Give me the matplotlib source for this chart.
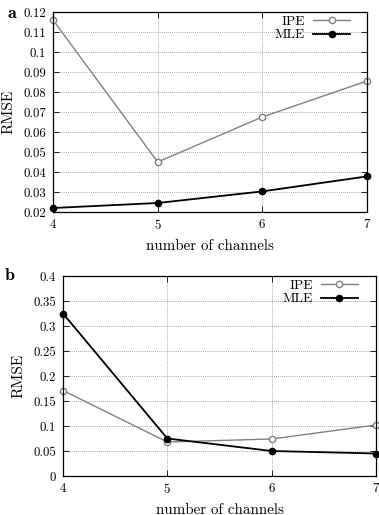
import matplotlib
matplotlib.use("Agg")
import matplotlib.pyplot as plt

plt.rcParams['font.family'] = ['cmr10']
plt.rcParams['axes.formatter.use_mathtext'] = True
plt.rcParams['mathtext.fontset'] = 'cm'

channels = [4, 5, 6, 7]

# panel a
ipe_a = [0.116, 0.045, 0.0675, 0.0855]
mle_a = [0.022, 0.0245, 0.0303, 0.0378]
yticks_a = [0.02, 0.03, 0.04, 0.05, 0.06, 0.07, 0.08, 0.09, 0.1, 0.11, 0.12]

# panel b
ipe_b = [0.171, 0.068, 0.074, 0.102]
mle_b = [0.325, 0.075, 0.050, 0.045]
yticks_b = [0, 0.05, 0.1, 0.15, 0.2, 0.25, 0.3, 0.35, 0.4]

W, H = 379, 515
fig = plt.figure(figsize=(W / 100, H / 100), dpi=100)


def make_axes(rect, ipe, mle, yticks, leg_x):
    l, t, r, b = rect
    ax = fig.add_axes([l / W, 1 - b / H, (r - l) / W, (b - t) / H])
    ax.plot(channels, ipe, color='#808080', lw=1.0, marker='o', ms=4.5,
            mfc='white', mec='#808080', mew=1.0, label='IPE', clip_on=False)
    ax.plot(channels, mle, color='black', lw=1.3, marker='o', ms=4.5,
            mfc='black', mec='black', label='MLE', clip_on=False)
    ax.set_xlim(4, 7)
    ax.set_ylim(yticks[0], yticks[-1])
    ax.set_xticks(channels)
    ax.set_yticks(yticks)
    ax.set_yticklabels([f'{v:g}' for v in yticks])
    ax.grid(True, color='#888888', ls=(0, (1, 1.5)), lw=0.6)
    ax.tick_params(direction='in', top=True, right=True, labelsize=9.3,
                   length=4, width=0.6)
    ax.tick_params(axis='y', pad=5)
    ax.tick_params(axis='x', pad=4)
    for s in ax.spines.values():
        s.set_linewidth(0.9)
    ax.set_xlabel('number of channels', fontsize=10.8, va='top')
    ax.xaxis.set_label_coords(0.5, -27.5 / (b - t))
    ax.set_ylabel('RMSE', fontsize=11)
    ax.yaxis.set_label_coords(-38 / (r - l), 0.5)
    ax.legend(loc='upper right', frameon=False, markerfirst=False,
              fontsize=9.8, handlelength=2.7, borderaxespad=0.0,
              labelspacing=0.1, handletextpad=0.6, borderpad=0.0,
              bbox_to_anchor=(leg_x, 0.985))
    return ax


make_axes((53, 12, 367, 212), ipe_a, mle_a, yticks_a, 0.946)
make_axes((63, 276, 376, 476), ipe_b, mle_b, yticks_b, 0.942)

fig.text(12 / W, 1 - 13 / H, 'a', fontsize=13, family='cmb10',
         va='center', ha='center')
fig.text(10 / W, 1 - 275 / H, 'b', fontsize=13, family='cmb10',
         va='center', ha='center')

fig.savefig('out.png', dpi=100)
